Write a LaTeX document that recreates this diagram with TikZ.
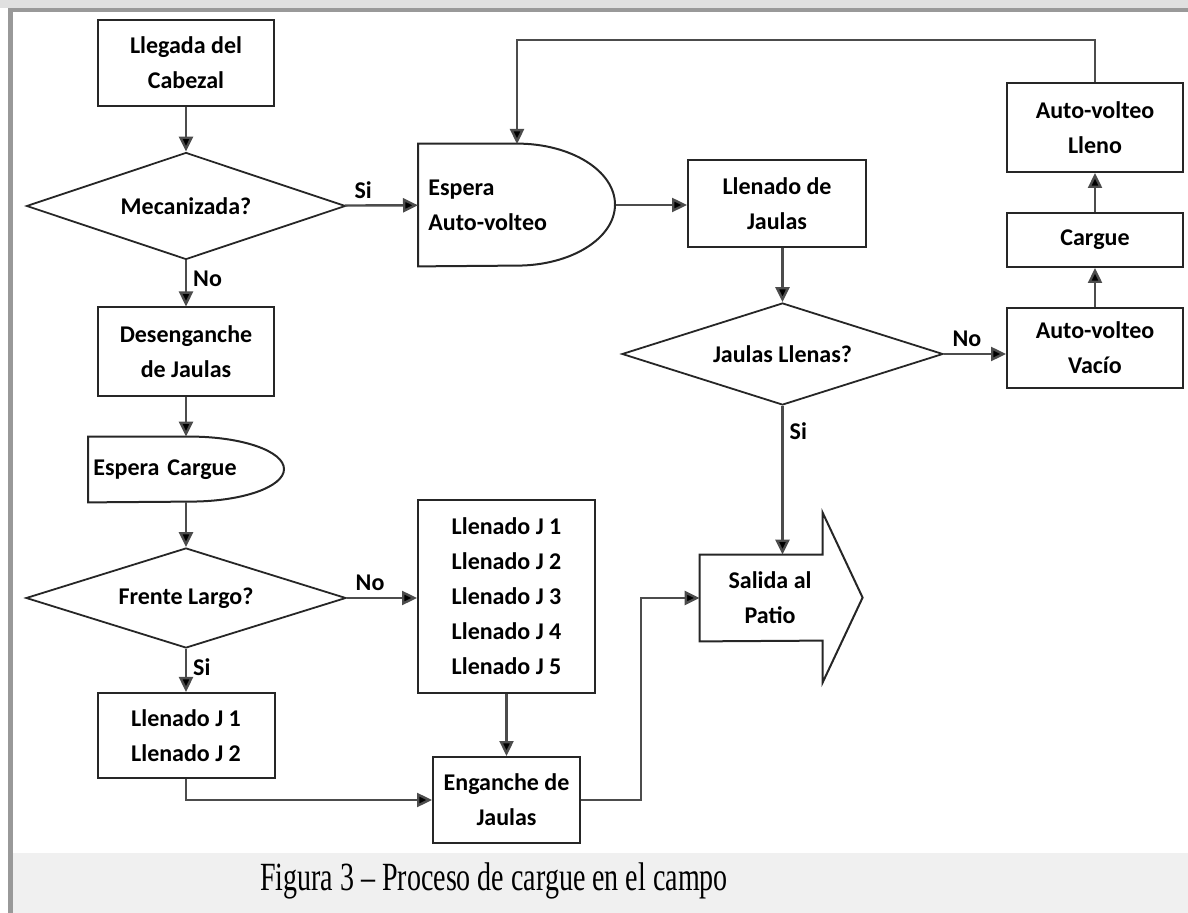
\documentclass[tikz,border=0pt]{standalone}
\usepackage{fontspec}
\usepackage{graphicx}
\setsansfont{Carlito}
\newfontfamily\captionfont{Liberation Serif}
\usetikzlibrary{shapes.geometric,arrows.meta}

\tikzset{
  box/.style={draw=black!85, line width=1pt, fill=white, align=center, inner sep=0pt},
  decision/.style={diamond, aspect=3, draw=black!85, line width=0.9pt, fill=white, inner sep=0pt},
  waitbox/.style={anchor=west, inner ysep=0pt, align=left},
  border/.style={draw=black!85, line width=1pt},
  flow/.style={draw=black!70, line width=1.2pt, -{Triangle[length=7.5pt,width=7pt,fill=black]}},
  lbl/.style={inner sep=3pt},
}

\begin{document}
\begin{tikzpicture}[x=0.5pt, y=-0.5pt, font=\sffamily\bfseries\fontsize{12}{17.5}\selectfont]
\useasboundingbox (0,0) rectangle (1188,913);
% marco y pie
\fill[black!12] (0,0) rectangle (1188,8);
\fill[black!40] (8,8) rectangle (1188,12);
\fill[black!40] (8,8) rectangle (13,913);
\fill[black!6] (13,853) rectangle (1188,913);
\node (cap) at (494,881) {\captionfont\mdseries\fontsize{20}{22}\selectfont\scalebox{0.7}[1]{Figura 3 – Proceso de cargue en el campo}};

% columna izquierda
\node[box, minimum width=88pt, minimum height=43pt] (lleg) at (186,63) {Llegada del\\Cabezal};
\node[decision, minimum width=159.5pt, minimum height=53.5pt] (mec) at (186,206) {Mecanizada?};
\node[box, minimum width=88pt, minimum height=44.5pt] (desen) at (186,352) {Desenganche\\de Jaulas};
\node[waitbox, inner xsep=2.5pt, minimum width=98pt, minimum height=32.5pt, text width=93pt] (esperaC) at (88,469.5) {Espera Cargue};
\draw[border] (esperaC.north west) -- ++(102,0) arc[start angle=-90, end angle=90, x radius=94, y radius=32.5] -- (esperaC.south west) -- cycle;
\node[decision, minimum width=160pt, minimum height=50pt] (frente) at (186,598) {Frente Largo?};
\node[box, minimum width=88.5pt, minimum height=42.5pt] (j12) at (186,735.5) {Llenado J 1\\Llenado J 2};

% centro
\node[box, minimum width=88.5pt, minimum height=96.5pt] (j15) at (506.5,596.5) {Llenado J 1\\Llenado J 2\\Llenado J 3\\Llenado J 4\\Llenado J 5};
\node[box, minimum width=73.5pt, minimum height=43pt] (eng) at (506.5,800) {Enganche de\\Jaulas};
\node[waitbox, inner xsep=5pt, minimum width=98.5pt, minimum height=61pt, text width=88.5pt] (esperaA) at (418,205) {Espera\\Auto-volteo};
\draw[border] (esperaA.north west) -- ++(99,0) arc[start angle=-90, end angle=90, x radius=98, y radius=61] -- (esperaA.south west) -- cycle;
\coordinate (topA) at (517,144);

% derecha
\node[box, minimum width=89pt, minimum height=43.5pt] (llenJ) at (777,203.5) {Llenado de\\Jaulas};
\node[decision, minimum width=160.5pt, minimum height=51pt] (jaulas) at (782.5,354) {Jaulas Llenas?};
\node[align=center, inner sep=0pt, minimum width=70pt, minimum height=43pt] (salida) at (770,598) {Salida al\\Patio};
\draw[border] (salida.north west) -- ++(123,0) -- ++(0,-42) -- ++(40,85) -- ++(-40,85) -- ++(0,-42) -- (salida.south west) -- cycle;
\node[box, minimum width=88pt, minimum height=40pt] (vacio) at (1095,348) {Auto-volteo\\Vacío};
\node[box, minimum width=88pt, minimum height=27pt] (cargue) at (1095,240) {Cargue};
\node[box, minimum width=88pt, minimum height=44.5pt] (lleno) at (1095,127.5) {Auto-volteo\\Lleno};
\coordinate (ret) at (0,40);

% conexiones
\draw[flow] (lleg) -- (mec);
\draw[flow] (mec) -- node[lbl, right, pos=0.4] {No} (desen);
\draw[flow] (mec) -- node[lbl, above, pos=0.25] {Si} (esperaA);
\draw[flow] (desen) -- (esperaC.north -| desen);
\draw[flow] (esperaC.south -| frente) -- (frente);
\draw[flow] (frente) -- node[lbl, right, pos=0.42] {Si} (j12);
\draw[flow] (frente) -- node[lbl, above, pos=0.33] {No} (frente -| j15.west);
\draw[flow] (j15) -- (eng);
\draw[flow] (j12.south) |- (eng.west);
\draw[flow] (eng.east) -- ++(60,0) |- (salida.west);
\draw[flow] (esperaA.east) -- (esperaA.east -| llenJ.west);
\draw[flow] (llenJ.south -| jaulas) -- (jaulas);
\draw[flow] (jaulas) -- node[lbl, right, pos=0.17] {Si} (jaulas |- salida.north);
\draw[flow] (jaulas) -- node[lbl, above, pos=0.37] {No} (jaulas -| vacio.west);
\draw[flow] (vacio) -- (cargue);
\draw[flow] (cargue) -- (lleno);
\draw[flow] (lleno.north) -- (lleno.north |- ret) -| (topA);
\end{tikzpicture}
\end{document}
